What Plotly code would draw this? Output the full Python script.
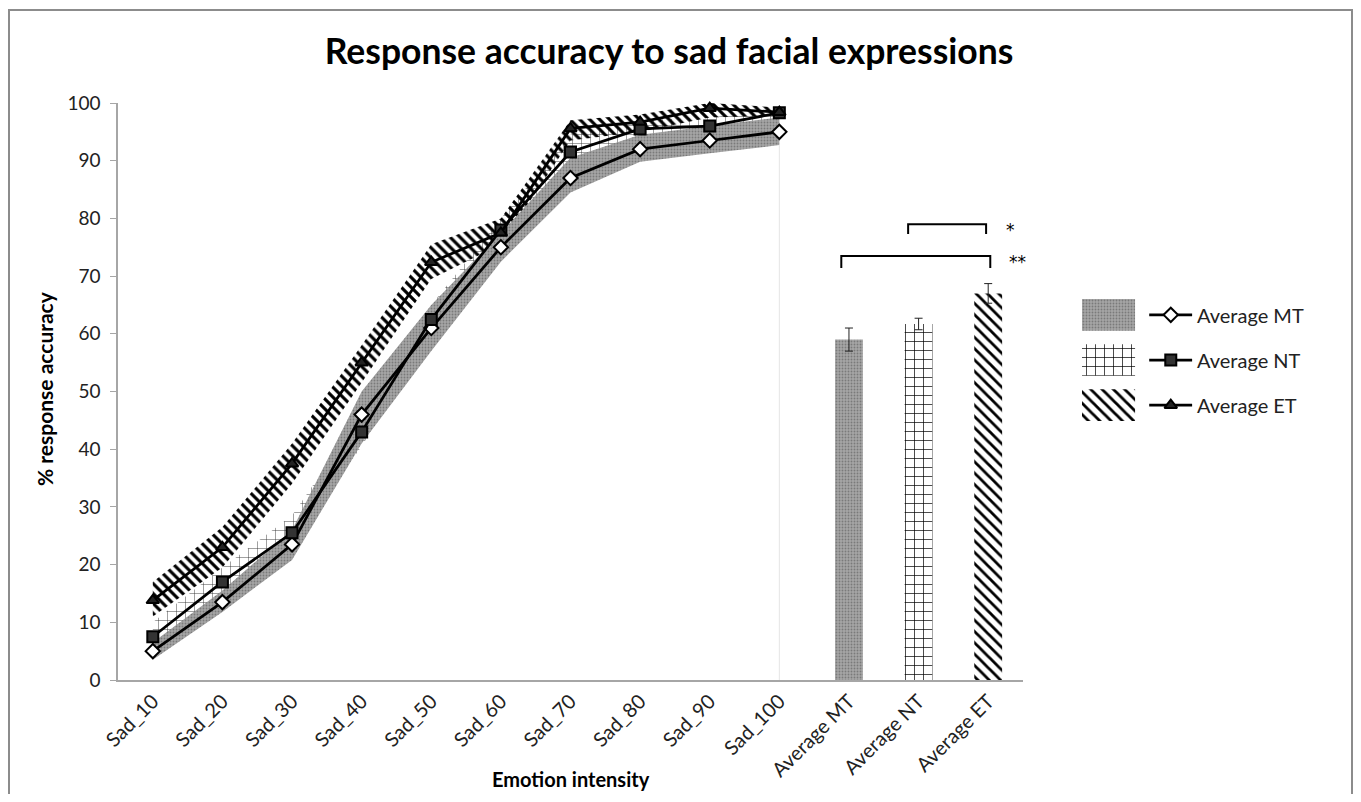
import plotly.graph_objects as go

# ---------------- data ----------------
intensity = ["Sad_10", "Sad_20", "Sad_30", "Sad_40", "Sad_50",
             "Sad_60", "Sad_70", "Sad_80", "Sad_90", "Sad_100"]
avg_labels = ["Average MT", "Average NT", "Average ET"]

mt_mean = [5, 13.5, 23.5, 46, 61, 75, 87, 92, 93.5, 95]
nt_mean = [7.5, 17, 25.5, 43, 62.5, 78, 91.5, 95.5, 96, 98.3]
et_mean = [13.8, 23, 37.5, 55, 72.4, 77.5, 95.6, 96.7, 99.1, 98.4]

mt_lo = [3.5, 11.8, 20.8, 41, 57, 72.5, 84.5, 89.8, 91.3, 92.7]
mt_hi = [6.5, 15.5, 26, 50, 65, 77.5, 90.5, 94.5, 96, 97.5]
nt_lo = [6, 15, 23.5, 40.5, 60, 76, 89.5, 94, 95, 97.5]
nt_hi = [10, 19.5, 28.5, 46, 65, 80, 94.5, 97, 97.5, 99]
et_lo = [11, 19.5, 34, 51.5, 69.5, 75.5, 93.5, 95, 97.5, 97.8]
et_hi = [17, 26.5, 41, 58, 75.5, 80, 97, 98, 100, 99.2]

avg_values = [59, 61.7, 67]
avg_err = [2, 1, 1.7]

y_ticks = [0, 10, 20, 30, 40, 50, 60, 70, 80, 90, 100]

FONT = "Lato"
all_cats = intensity + avg_labels

# ---------------- styles ----------------
GRAY = "#a6a6a6"
CLEAR = "rgba(255,255,255,0)"
pat_mt = dict(shape=".", fgcolor="#7a7a7a", bgcolor=GRAY, size=3, solidity=0.3, fgopacity=1)
pat_nt_band = dict(shape="+", fgcolor="#333333", bgcolor=CLEAR, size=9, solidity=0.1, fgopacity=1)
pat_et_band = dict(shape="\\", fgcolor="#000000", bgcolor=CLEAR, size=7, solidity=0.45, fgopacity=1)
pat_nt_bar = dict(shape="+", fgcolor="#000000", bgcolor="white", size=9, solidity=0.15, fgopacity=1)
pat_et_bar = dict(shape="\\", fgcolor="#000000", bgcolor="white", size=8, solidity=0.35, fgopacity=1)

fig = go.Figure()

def band(lo, hi, pat, fillcolor):
    fig.add_trace(go.Scatter(
        x=intensity + intensity[::-1], y=hi + lo[::-1],
        mode="none", fill="toself", fillcolor=fillcolor, fillpattern=pat,
        hoverinfo="skip", showlegend=False, xaxis="x", yaxis="y"))

band(nt_lo, nt_hi, pat_nt_band, CLEAR)
band(et_lo, et_hi, pat_et_band, CLEAR)
band(mt_lo, mt_hi, pat_mt, GRAY)

line_specs = [
    ("Average MT", mt_mean, "diamond", "white", 11),
    ("Average NT", nt_mean, "square", "#333333", 11),
    ("Average ET", et_mean, "triangle-up", "#222222", 11),
]
for name, vals, sym, col, sz in line_specs:
    fig.add_trace(go.Scatter(
        x=intensity, y=vals, mode="lines+markers", name=name,
        line=dict(color="black", width=2.75),
        marker=dict(symbol=sym, color=col, size=sz, line=dict(color="black", width=2)),
        showlegend=False, xaxis="x", yaxis="y", cliponaxis=False))

# bars (one trace per group so each keeps its own pattern)
bar_specs = [
    (GRAY, pat_mt),
    ("white", pat_nt_bar),
    ("white", pat_et_bar),
]
for lab, val, err, (col, pat) in zip(avg_labels, avg_values, avg_err, bar_specs):
    fig.add_trace(go.Bar(
        x=[lab], y=[val], width=0.4, name=lab,
        marker=dict(color=col, line=dict(width=0), pattern=pat),
        error_y=dict(type="data", array=[err], color="#222222", thickness=1, width=4),
        showlegend=False, xaxis="x", yaxis="y"))

# ---------------- manual legend (inset axes) ----------------
SW_W = 2.14  # swatch width in legend units
for i, ((name, vals, sym, col, sz), (bcol, pat)) in enumerate(zip(line_specs, bar_specs)):
    fig.add_trace(go.Bar(
        y=[i], x=[SW_W], base=0, orientation="h", width=0.7,
        marker=dict(color=bcol, line=dict(width=0), pattern=pat),
        hoverinfo="skip", showlegend=False, xaxis="x2", yaxis="y2"))
    fig.add_trace(go.Scatter(
        x=[2.71, 4.44], y=[i, i], mode="lines", line=dict(color="black", width=2.75),
        hoverinfo="skip", showlegend=False, xaxis="x2", yaxis="y2"))
    fig.add_trace(go.Scatter(
        x=[3.58], y=[i], mode="markers",
        marker=dict(symbol=sym, color=col, size=sz, line=dict(color="black", width=2)),
        hoverinfo="skip", showlegend=False, xaxis="x2", yaxis="y2"))
    fig.add_annotation(x=4.56, y=i, xref="x2", yref="y2", text=name, showarrow=False,
                       xanchor="left", yanchor="middle",
                       font=dict(family=FONT, size=20, color="#222222"))

# ---------------- layout ----------------
OFF = 8                      # page body margin
W, H = 1361 - 2 * OFF, 786   # figure size
ML, MR = 118 - OFF, 20
MT_ = 103 - OFF
MB = H - (680 - OFF)
plot_w = W - ML - MR
main_w = 905

def px(page_x):
    return (page_x - 118) / plot_w

def py(page_y):
    return (680 - page_y) / 577

fig.update_layout(
    width=W, height=H,
    margin=dict(l=ML, r=MR, t=MT_, b=MB),
    paper_bgcolor="white", plot_bgcolor="white",
    font=dict(family=FONT, color="#222222"),
    barmode="overlay",
    title=dict(text="<b>Response accuracy to sad facial expressions</b>",
               x=(669 - OFF) / W, xref="container", xanchor="center",
               y=1 - (52 - OFF) / H, yref="container", yanchor="middle",
               font=dict(family=FONT, size=35.5, color="black")),
    xaxis=dict(domain=[0, main_w / plot_w], type="category",
               categoryorder="array", categoryarray=all_cats,
               range=[-0.5, len(all_cats) - 0.5],
               showline=True, linecolor="#a6a6a6", linewidth=1.5,
               ticks="", tickangle=-45, showgrid=False, zeroline=False,
               tickfont=dict(family=FONT, size=20, color="#222222")),
    yaxis=dict(domain=[0, 1], range=[0, 100], tickvals=y_ticks,
               showline=True, linecolor="#a6a6a6", linewidth=1.5,
               ticks="outside", ticklen=6, tickcolor="#a6a6a6",
               ticklabelstandoff=6,
               showgrid=False, zeroline=False,
               tickfont=dict(family=FONT, size=19, color="#222222")),
    xaxis2=dict(domain=[px(1082), px(1330)], range=[0, 10],
                visible=False, fixedrange=True),
    yaxis2=dict(domain=[py(430), py(290)], range=[2.55, -0.55],
                visible=False, fixedrange=True),
)

# axis titles
fig.add_annotation(text="<b>% response accuracy</b>", xref="paper", yref="paper",
                   x=px(44), y=py(389), textangle=-90, showarrow=False,
                   xanchor="center", yanchor="middle",
                   font=dict(family=FONT, size=21, color="black"))
fig.add_annotation(text="<b>Emotion intensity</b>", xref="paper", yref="paper",
                   x=px(571), y=py(779), showarrow=False,
                   xanchor="center", yanchor="middle",
                   font=dict(family=FONT, size=20, color="black"))

# significance brackets
brackets = [(10.85, 11.97, 79, 77.3, "*", 12.32, 78.0),
            (9.89, 12.03, 73.5, 71.4, "**", 12.42, 72.4)]
for x0, x1, ytop, yleg, txt, tx, ty in brackets:
    fig.add_shape(type="path", xref="x", yref="y",
                  path=f"M {x0},{yleg} L {x0},{ytop} L {x1},{ytop} L {x1},{yleg}",
                  line=dict(color="black", width=2))
    fig.add_annotation(x=tx, y=ty, xref="x", yref="y", text=txt, showarrow=False,
                       font=dict(family="DejaVu Sans", size=17, color="black"))

# faint edge of the band area at Sad_100
fig.add_shape(type="line", xref="x", yref="y", x0=9, x1=9, y0=0, y1=mt_lo[-1],
              line=dict(color="#e6e6e6", width=1), layer="below")

# outer chart frame
fig.add_shape(type="rect", xref="paper", yref="paper",
              x0=px(9), x1=px(1352),
              y0=py(840), y1=py(10),
              line=dict(color="#8c8c8c", width=2), fillcolor="rgba(0,0,0,0)")

fig.write_html("out.html")
